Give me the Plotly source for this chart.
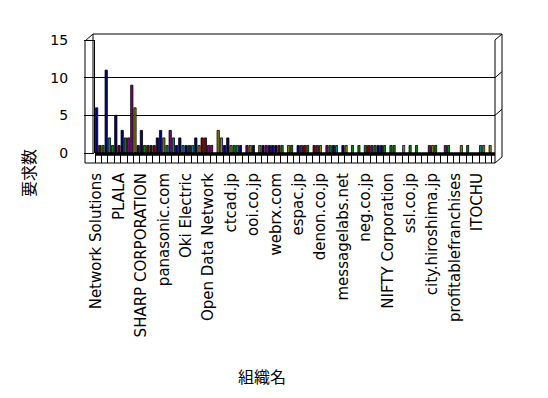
import plotly.graph_objects as go

# page body adds an 8px offset; work in screen pixels and convert
OFF = 8
W, H = 540, 390
SX0, SX1, SY0, SY1 = 95, 495, 40, 153      # plot area in screen px
L, R = SX0 - OFF, W - (SX1 - OFF)
T, B = SY0 - OFF, H - (SY1 - OFF)

n_cat = 125
label_idx = list(range(0, 125, 7))
label_txt = ["Network Solutions", "PLALA", "SHARP CORPORATION", "panasonic.com",
             "Oki Electric", "Open Data Network", "ctcad.jp", "ooi.co.jp", "webrx.com",
             "espac.jp", "denon.co.jp", "messagelabs.net", "neg.co.jp", "NIFTY Corporation",
             "ssl.co.jp", "city.hiroshima.jp", "profitablefranchises", "ITOCHU"]
categories = [""] * n_cat
for i, t in zip(label_idx, label_txt):
    categories[i] = t

values = [6, 1, 1, 11, 2, 1, 5, 1, 3, 2, 2, 9, 6, 1, 3, 1, 1, 1, 1, 2,
          3, 2, 1, 3, 2, 1, 2, 1, 1, 1, 1, 2, 1, 2, 2, 1, 1, 1, 3, 2,
          1, 2, 1, 1, 1, 1, 1, 1, 1, 1, 1, 1, 1, 1, 1, 1, 1, 1, 1, 1,
          1, 1, 1, 1, 1, 1, 1, 1, 1, 1, 1, 1, 1, 1, 1, 1, 1, 1, 1, 1,
          1, 1, 1, 1, 1, 1, 1, 1, 1, 1, 1, 1, 1, 1, 1, 1, 1, 1, 1, 1,
          1, 1, 1, 1, 1, 1, 1, 1, 1, 1, 1, 1, 1, 1, 1, 1, 1, 1, 1, 1,
          1, 1, 1, 1, 1]

# per-bar colour codes: N navy, G green, D dark red, T teal, O olive, P purple, Y gray, K black, W white
color_codes = ("NDGNTGNDNGPPOKNGDKDN"
               "NOTPTNNTNKTNODDPPWOY"
               "NNOGTNWPONWONPNNNDGW"
               "OGWNPDGWDPOWPGNTWNOW"
               "GWGWGDPGNNGWGGWWYWGW"
               "GWWWPOGWWPGWWWOWGWWW"
               "TOWOW")
palette = {"N": "#000080", "G": "#008000", "D": "#800000", "T": "#008080", "O": "#808000",
           "P": "#800080", "Y": "#808080", "K": "#202020", "W": "#ffffff"}
colors = [palette[c] for c in color_codes]
edge = ["#ffffff" if c == "W" else "#000000" for c in color_codes]

PW = W - L - R
PH = H - T - B
def px(x):
    return (x - OFF - L) / PW
def py(y):
    return (H - B - (y - OFF)) / PH

fig = go.Figure()
fig.add_trace(go.Bar(x=list(range(n_cat)), y=values,
                     marker=dict(color=colors, line=dict(color=edge, width=0.8)),
                     width=0.72, hovertext=categories, showlegend=False))
fig.add_trace(go.Scatter(x=[0], y=[None], xaxis="x2", showlegend=False, hoverinfo="skip"))

shapes = []
def line(x0, y0, x1, y1, w=1):
    shapes.append(dict(type="line", xref="paper", yref="paper", x0=px(x0), y0=py(y0), x1=px(x1), y1=py(y1),
                       line=dict(color="black", width=w), layer="above"))
line(85, 41, 85, 163)
line(85, 41, 93, 34)
line(93, 34, 502, 34)
line(502, 34, 502, 157)
line(495, 40, 495, 163)
line(85, 163, 495, 163)
line(495, 163, 502, 157)
line(93, 34, 93, 153)
for gy in [40, 77.7, 115.3]:
    line(495, gy, 502, gy - 6)
line(95, 154, 495, 154, 3.5)

fig.update_layout(
    width=W, height=H, margin=dict(l=L, r=R, t=T, b=B, autoexpand=False),
    paper_bgcolor="white", plot_bgcolor="white",
    font=dict(family="DejaVu Sans", size=14, color="black"),
    shapes=shapes,
    xaxis=dict(range=[-0.5, n_cat - 0.5], tickmode="array", automargin=False,
               tickvals=[k - 0.5 for k in range(0, n_cat + 1, 2)], ticktext=[""] * 63,
               ticks="outside", ticklen=9, tickcolor="black", tickwidth=1,
               showgrid=False, showline=False, zeroline=False, fixedrange=True),
    xaxis2=dict(range=[-0.5, n_cat - 0.5], overlaying="x", anchor="y", side="bottom", automargin=False,
                tickmode="array", tickvals=label_idx, ticktext=label_txt, tickangle=-90,
                ticks="outside", ticklen=13, tickcolor="rgba(0,0,0,0)",
                showgrid=False, showline=False, zeroline=False,
                tickfont=dict(family="DejaVu Sans", size=15)),
    yaxis=dict(range=[0, 15], tickvals=[0, 5, 10, 15], ticks="outside", ticklen=10, tickcolor="black",
               ticklabelstandoff=13, showgrid=True, gridcolor="black", gridwidth=1, automargin=False,
               showline=True, linecolor="black", zeroline=False,
               tickfont=dict(family="DejaVu Sans", size=14)),
    annotations=[
        dict(text="要求数", xref="paper", yref="paper", x=px(28), y=py(173), textangle=-90,
             xanchor="center", yanchor="middle",
             showarrow=False, font=dict(family="Noto Sans CJK JP", size=16)),
        dict(text="組織名", xref="paper", yref="paper", x=px(262), y=py(376),
             xanchor="center", yanchor="middle",
             showarrow=False, font=dict(family="Noto Sans CJK JP", size=16)),
    ],
)
fig.write_html("out.html")
